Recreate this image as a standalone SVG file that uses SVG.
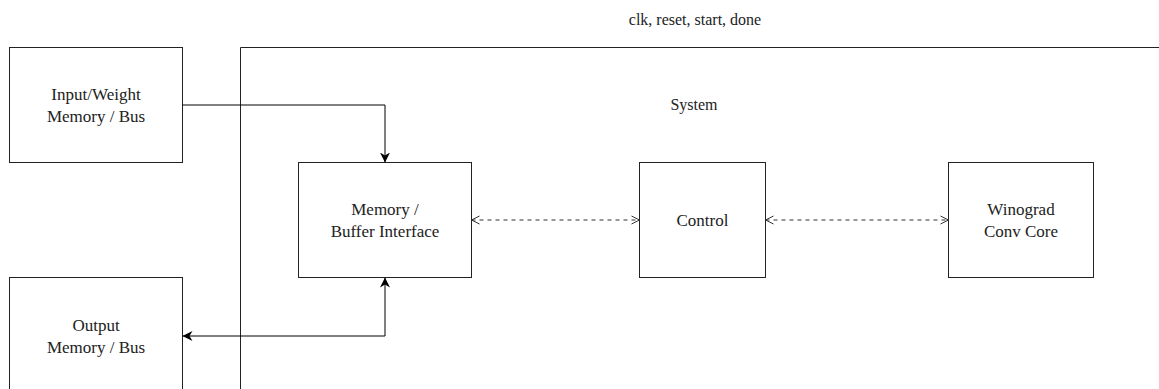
<svg xmlns="http://www.w3.org/2000/svg" width="1159" height="389" viewBox="0 0 1159 389">
  <style>
    .box { fill: #ffffff; stroke: #222222; stroke-width: 1; }
    .frame { fill: none; stroke: #222222; stroke-width: 1; }
    .lbl { font-family: "Liberation Serif", "Times New Roman", serif; font-size: 17px; fill: #222222; text-anchor: middle; }
    .cap { font-family: "Liberation Serif", "Times New Roman", serif; font-size: 16px; fill: #222222; text-anchor: middle; }
    .wire { fill: none; stroke: #000000; stroke-width: 1; }
    .dash { fill: none; stroke: #333333; stroke-width: 1; stroke-dasharray: 4 4; }
  </style>
  <defs>
    <marker id="solid" viewBox="0 0 10 10" refX="10" refY="5" markerWidth="10" markerHeight="10" markerUnits="userSpaceOnUse" orient="auto-start-reverse">
      <path d="M0,0 L10,5 L0,10 L3,5 Z" fill="#000000"/>
    </marker>
    <marker id="open" viewBox="0 0 10 10" refX="9" refY="5" markerWidth="10" markerHeight="10" markerUnits="userSpaceOnUse" orient="auto-start-reverse">
      <path d="M1,1 L9,5 L1,9" fill="none" stroke="#333333" stroke-width="1"/>
    </marker>
  </defs>

  <rect width="1159" height="389" fill="#ffffff"/>

  <!-- system boundary -->
  <g id="system">
    <path class="frame" d="M240.5,400 L240.5,47.5 L1170,47.5"/>
    <text class="cap" x="695" y="25">clk, reset, start, done</text>
    <text class="cap" x="694" y="110">System</text>
  </g>

  <!-- external memories -->
  <g id="input-mem">
    <rect class="box" x="9.5" y="47.5" width="173" height="115"/>
    <text class="lbl" x="96" y="100">Input/Weight</text>
    <text class="lbl" x="96" y="121.5">Memory / Bus</text>
  </g>
  <g id="output-mem">
    <rect class="box" x="9.5" y="277.5" width="173" height="115"/>
    <text class="lbl" x="96" y="331">Output</text>
    <text class="lbl" x="96" y="352.5">Memory / Bus</text>
  </g>

  <!-- internal blocks -->
  <g id="mem-if">
    <rect class="box" x="298.5" y="162.5" width="173" height="115"/>
    <text class="lbl" x="385" y="215">Memory /</text>
    <text class="lbl" x="385" y="236.5">Buffer Interface</text>
  </g>
  <g id="control">
    <rect class="box" x="639.5" y="162.5" width="126" height="115"/>
    <text class="lbl" x="702.5" y="226">Control</text>
  </g>
  <g id="winograd">
    <rect class="box" x="948.5" y="162.5" width="145" height="115"/>
    <text class="lbl" x="1021" y="215">Winograd</text>
    <text class="lbl" x="1021" y="236.5">Conv Core</text>
  </g>

  <!-- connectors -->
  <g id="connectors">
    <path class="wire" d="M182.5,105 L385,105 L385,162.5" marker-end="url(#solid)"/>
    <path class="wire" d="M385,277.5 L385,336 L182.5,336" marker-start="url(#solid)" marker-end="url(#solid)"/>
    <path class="dash" d="M471.5,220 L639.5,220" marker-start="url(#open)" marker-end="url(#open)"/>
    <path class="dash" d="M765.5,220 L948.5,220" marker-start="url(#open)" marker-end="url(#open)"/>
  </g>
</svg>
